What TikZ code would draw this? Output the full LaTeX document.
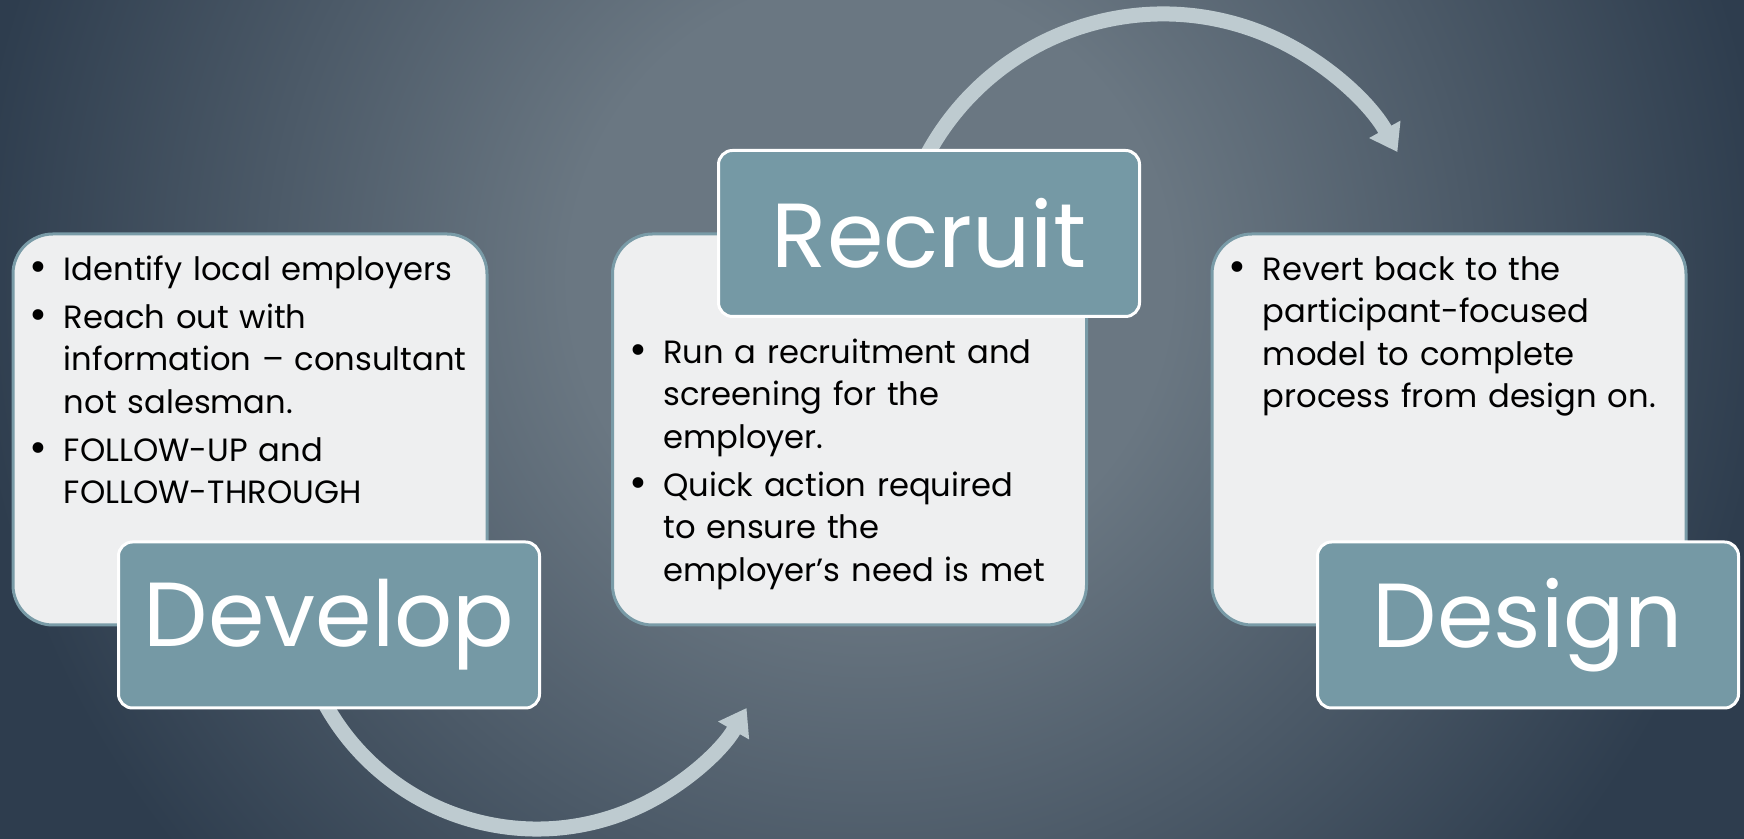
\documentclass[tikz,border=0pt]{standalone}
\usepackage{fontspec}
\usepackage{graphicx}
\setmainfont{Poppins}
\usetikzlibrary{arrows.meta,positioning}

\definecolor{bglight}{HTML}{6A7782}
\definecolor{bgdark}{HTML}{2E3D4E}
\definecolor{boxfill}{HTML}{EEEFF0}
\definecolor{boxedge}{HTML}{799BA7}
\definecolor{titlefill}{HTML}{7599A5}
\definecolor{arrowgray}{HTML}{BECBD0}

\newlength{\bulw}\setlength{\bulw}{17pt}
\newcommand{\bfirst}{\noindent\hangindent=\bulw\hangafter=1\makebox[\bulw][l]{\raisebox{-0.6pt}{\scalebox{1.35}{\textbullet}}}}
\newcommand{\bpoint}{\par\bfirst}

\pgfdeclareradialshading{bgglow}{\pgfpoint{0bp}{0bp}}{color(0bp)=(bglight); color(7.5bp)=(bglight); color(22.5bp)=(bgdark); color(50bp)=(bgdark)}

\begin{document}
\begin{tikzpicture}[x=0.5pt, y=0.5pt, node distance=299.75pt, on grid,
  infobox/.style={draw=boxedge, line width=1.5pt, fill=boxfill, rounded corners=20pt,
    minimum width=237pt, minimum height=195.5pt},
  titlebox/.style={draw=white, line width=1.5pt, fill=titlefill, rounded corners=7pt,
    minimum width=210.5pt, minimum height=83pt, text=white, font=\fontsize{45.5}{50}\selectfont},
  bullets/.style={text width=230pt, inner sep=0pt, anchor=base west,
    font=\fontsize{16.1}{21.2}\selectfont\setlength{\parskip}{2.8pt}\setlength{\parindent}{0pt}},
  cyclearrow/.style={draw=arrowgray, line width=7.5pt, -{Triangle[length=13pt,width=17pt]}}]
  \useasboundingbox (0,0) rectangle (1744,839);

  % background glow
  \fill[bgdark] (0,0) rectangle (1744,839);
  \begin{scope}
    \clip (0,0) rectangle (1744,839);
    \shade[shading=bgglow] (870,560) circle (1000);
  \end{scope}

  % arcs between the steps
  \coordinate (lowc) at (537,252);
  \coordinate (highc) at (1163,557);
  \draw[cyclearrow] ([shift={(206:242)}]lowc) arc[start angle=206, end angle=330, radius=242];
  \draw[cyclearrow] ([shift={(153:268)}]highc) arc[start angle=153, end angle=29, radius=268];

  % boxes
  \node[infobox] (dev) at (250,409.5) {};
  \node[infobox] (rec) [right=of dev] {};
  \node[infobox] (des) [right=of rec] {};

  \node[titlebox] (devT) [below right=97.75pt and 39.5pt of dev] {Develop};
  \node[titlebox] (recT) [above right=98pt and 39.75pt of rec] {Recruit};
  \node[titlebox] (desT) [below right=97.75pt and 39.5pt of des] {Design};

  % bullet texts
  \node[bullets] (devtxt) at ([xshift=9pt,yshift=-24pt]dev.north west)
    {\bfirst Identify local employers
     \bpoint Reach out with\newline information – consultant\newline not salesman.
     \bpoint FOLLOW-UP and\newline FOLLOW-THROUGH\par};
  \node[bullets] (rectxt) at ([xshift=9pt,yshift=-65.5pt]rec.north west)
    {\bfirst Run a recruitment and\newline screening for the\newline employer.
     \bpoint Quick action required\newline to ensure the\newline employer’s need is met\par};
  \node[bullets] (destxt) at ([xshift=9pt,yshift=-24pt]des.north west)
    {\bfirst Revert back to the\newline participant-focused\newline model to complete\newline process from design on.\par};
\end{tikzpicture}
\end{document}
